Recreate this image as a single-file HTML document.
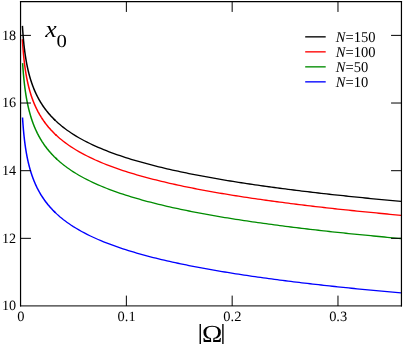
<!DOCTYPE html>
<html><head><meta charset="utf-8"><title>x0 vs |Omega|</title>
<style>
html,body{margin:0;padding:0;background:#fff;}
body{width:403px;height:344px;overflow:hidden;}
svg{display:block;will-change:transform;}
text{text-rendering:geometricPrecision;font-family:"Liberation Serif",serif;fill:#000;}
</style></head>
<body>
<svg width="403" height="344" viewBox="0 0 403 344">
<rect x="0" y="0" width="403" height="344" fill="#ffffff"/>
<g>
<path d="M22.53,117.50 L22.61,118.88 L22.70,120.25 L22.80,121.63 L22.89,123.01 L22.99,124.39 L23.10,125.76 L23.21,127.14 L23.32,128.52 L23.44,129.90 L23.57,131.28 L23.70,132.65 L23.83,134.03 L23.97,135.41 L24.12,136.79 L24.27,138.17 L24.43,139.55 L24.59,140.92 L24.77,142.30 L24.94,143.68 L25.13,145.06 L25.33,146.44 L25.53,147.82 L25.74,149.20 L25.96,150.58 L26.19,151.96 L26.43,153.34 L26.68,154.72 L26.94,156.10 L27.22,157.48 L27.50,158.86 L27.79,160.24 L28.10,161.62 L28.42,163.00 L28.75,164.38 L29.10,165.76 L29.46,167.14 L29.84,168.52 L30.23,169.90 L30.64,171.28 L31.07,172.66 L31.52,174.04 L31.98,175.42 L32.47,176.80 L32.97,178.18 L33.49,179.57 L34.04,180.95 L34.61,182.33 L35.21,183.71 L35.83,185.09 L36.47,186.47 L37.14,187.86 L37.85,189.24 L38.58,190.62 L39.34,192.00 L40.13,193.38 L40.96,194.77 L41.82,196.15 L42.72,197.53 L43.65,198.91 L44.63,200.30 L45.65,201.68 L46.71,203.06 L47.81,204.45 L48.96,205.83 L50.16,207.21 L51.41,208.60 L52.71,209.98 L54.07,211.36 L55.48,212.75" fill="none" stroke="#0000ff" stroke-width="1.5" stroke-linejoin="round"/>
<path d="M54.07,211.36 L55.48,212.75 L56.95,214.13 L58.49,215.51 L60.09,216.90 L61.76,218.28 L63.50,219.67 L65.31,221.05 L67.19,222.43 L69.16,223.82 L71.21,225.20 L73.35,226.59 L76.10,228.29 L78.85,229.91 L81.61,231.46 L84.36,232.94 L87.11,234.36 L89.87,235.72 L92.62,237.02 L95.37,238.28 L98.13,239.50 L100.88,240.67 L103.63,241.80 L106.39,242.89 L109.14,243.95 L111.89,244.98 L114.65,245.98 L117.40,246.94 L120.15,247.88 L122.91,248.80 L125.66,249.69 L128.41,250.56 L131.17,251.41 L133.92,252.23 L136.68,253.04 L139.43,253.83 L142.18,254.59 L144.94,255.35 L147.69,256.08 L150.44,256.80 L153.20,257.51 L155.95,258.20 L158.70,258.87 L161.46,259.54 L164.21,260.19 L166.96,260.82 L169.72,261.45 L172.47,262.07 L175.22,262.67 L177.98,263.26 L180.73,263.84 L183.48,264.42 L186.24,264.98 L188.99,265.53 L191.74,266.08 L194.50,266.62 L197.25,267.14 L200.00,267.66 L202.76,268.18 L205.51,268.68 L208.26,269.18 L211.02,269.67 L213.77,270.15 L216.52,270.62 L219.28,271.09 L222.03,271.56 L224.78,272.01 L227.54,272.46 L230.29,272.91 L233.04,273.35 L235.80,273.78 L238.55,274.21 L241.30,274.63 L244.06,275.05 L246.81,275.46 L249.56,275.86 L252.32,276.27 L255.07,276.66 L257.82,277.06 L260.58,277.44 L263.33,277.83 L266.08,278.21 L268.84,278.58 L271.59,278.95 L274.34,279.32 L277.10,279.68 L279.85,280.04 L282.60,280.40 L285.36,280.75 L288.11,281.10 L290.86,281.44 L293.62,281.78 L296.37,282.12 L299.12,282.45 L301.88,282.78 L304.63,283.11 L307.38,283.44 L310.14,283.76 L312.89,284.08 L315.65,284.39 L318.40,284.70 L321.15,285.01 L323.91,285.32 L326.66,285.63 L329.41,285.93 L332.17,286.23 L334.92,286.52 L337.67,286.81 L340.43,287.11 L343.18,287.39 L345.93,287.68 L348.69,287.96 L351.44,288.25 L354.19,288.52 L356.95,288.80 L359.70,289.08 L362.45,289.35 L365.21,289.62 L367.96,289.88 L370.71,290.15 L373.47,290.41 L376.22,290.68 L378.97,290.94 L381.73,291.19 L384.48,291.45 L387.23,291.70 L389.99,291.95 L392.74,292.20 L395.49,292.45 L398.25,292.70 L401.00,292.94" fill="none" stroke="#0000ff" stroke-width="1.3" stroke-linejoin="round"/>
<path d="M22.62,63.10 L22.70,64.48 L22.80,65.85 L22.89,67.23 L22.99,68.61 L23.09,69.98 L23.20,71.36 L23.31,72.74 L23.43,74.11 L23.55,75.49 L23.68,76.87 L23.81,78.25 L23.95,79.62 L24.09,81.00 L24.24,82.38 L24.40,83.75 L24.56,85.13 L24.73,86.51 L24.90,87.88 L25.09,89.26 L25.28,90.64 L25.48,92.01 L25.68,93.39 L25.90,94.77 L26.12,96.14 L26.36,97.52 L26.60,98.90 L26.86,100.27 L27.12,101.65 L27.39,103.03 L27.68,104.40 L27.98,105.78 L28.29,107.16 L28.61,108.53 L28.95,109.91 L29.30,111.29 L29.67,112.66 L30.05,114.04 L30.45,115.41 L30.86,116.79 L31.29,118.17 L31.74,119.54 L32.21,120.92 L32.70,122.30 L33.20,123.67 L33.73,125.05 L34.28,126.43 L34.85,127.80 L35.45,129.18 L36.07,130.56 L36.72,131.93 L37.39,133.31 L38.10,134.68 L38.83,136.06 L39.59,137.44 L40.38,138.81 L41.21,140.19 L42.07,141.57 L42.97,142.94 L43.90,144.32 L44.87,145.70 L45.89,147.07 L46.94,148.45 L48.04,149.82 L49.19,151.20 L50.38,152.58 L51.62,153.95 L52.91,155.33 L54.26,156.71 L55.67,158.08 L57.13,159.46" fill="none" stroke="#008c00" stroke-width="1.5" stroke-linejoin="round"/>
<path d="M55.67,158.08 L57.13,159.46 L58.65,160.83 L60.24,162.21 L61.89,163.59 L63.61,164.96 L65.40,166.34 L67.27,167.71 L69.21,169.09 L71.24,170.47 L73.35,171.84 L76.10,173.56 L78.85,175.19 L81.61,176.75 L84.36,178.24 L87.11,179.66 L89.87,181.03 L92.62,182.35 L95.37,183.61 L98.13,184.83 L100.88,186.01 L103.63,187.15 L106.39,188.25 L109.14,189.31 L111.89,190.35 L114.65,191.35 L117.40,192.32 L120.15,193.27 L122.91,194.19 L125.66,195.09 L128.41,195.96 L131.17,196.81 L133.92,197.64 L136.68,198.45 L139.43,199.24 L142.18,200.02 L144.94,200.77 L147.69,201.51 L150.44,202.23 L153.20,202.94 L155.95,203.64 L158.70,204.32 L161.46,204.98 L164.21,205.64 L166.96,206.28 L169.72,206.91 L172.47,207.52 L175.22,208.13 L177.98,208.73 L180.73,209.31 L183.48,209.89 L186.24,210.45 L188.99,211.01 L191.74,211.56 L194.50,212.10 L197.25,212.63 L200.00,213.15 L202.76,213.66 L205.51,214.17 L208.26,214.67 L211.02,215.16 L213.77,215.64 L216.52,216.12 L219.28,216.59 L222.03,217.06 L224.78,217.52 L227.54,217.97 L230.29,218.41 L233.04,218.85 L235.80,219.29 L238.55,219.72 L241.30,220.14 L244.06,220.56 L246.81,220.97 L249.56,221.38 L252.32,221.79 L255.07,222.19 L257.82,222.58 L260.58,222.97 L263.33,223.35 L266.08,223.73 L268.84,224.11 L271.59,224.48 L274.34,224.85 L277.10,225.22 L279.85,225.58 L282.60,225.93 L285.36,226.29 L288.11,226.64 L290.86,226.98 L293.62,227.32 L296.37,227.66 L299.12,228.00 L301.88,228.33 L304.63,228.66 L307.38,228.98 L310.14,229.31 L312.89,229.63 L315.65,229.94 L318.40,230.26 L321.15,230.57 L323.91,230.88 L326.66,231.18 L329.41,231.48 L332.17,231.78 L334.92,232.08 L337.67,232.37 L340.43,232.67 L343.18,232.96 L345.93,233.24 L348.69,233.53 L351.44,233.81 L354.19,234.09 L356.95,234.37 L359.70,234.64 L362.45,234.91 L365.21,235.19 L367.96,235.45 L370.71,235.72 L373.47,235.99 L376.22,236.25 L378.97,236.51 L381.73,236.77 L384.48,237.02 L387.23,237.28 L389.99,237.53 L392.74,237.78 L395.49,238.03 L398.25,238.28 L401.00,238.52" fill="none" stroke="#008c00" stroke-width="1.3" stroke-linejoin="round"/>
<path d="M22.37,39.30 L22.45,40.64 L22.53,41.99 L22.62,43.34 L22.71,44.68 L22.81,46.03 L22.91,47.38 L23.01,48.73 L23.12,50.08 L23.23,51.43 L23.35,52.78 L23.47,54.14 L23.60,55.49 L23.74,56.85 L23.88,58.20 L24.02,59.56 L24.17,60.92 L24.33,62.27 L24.50,63.63 L24.67,64.99 L24.85,66.36 L25.04,67.72 L25.24,69.08 L25.44,70.45 L25.65,71.81 L25.88,73.18 L26.11,74.54 L26.35,75.91 L26.60,77.28 L26.87,78.65 L27.14,80.02 L27.43,81.39 L27.73,82.76 L28.04,84.14 L28.37,85.51 L28.71,86.89 L29.06,88.26 L29.43,89.64 L29.82,91.02 L30.22,92.40 L30.64,93.77 L31.08,95.16 L31.54,96.54 L32.02,97.92 L32.51,99.30 L33.03,100.69 L33.58,102.07 L34.14,103.46 L34.73,104.84 L35.35,106.23 L35.99,107.62 L36.66,109.01 L37.36,110.40 L38.08,111.79 L38.85,113.18 L39.64,114.58 L40.47,115.97 L41.33,117.37 L42.23,118.76 L43.17,120.16 L44.15,121.56 L45.17,122.95 L46.24,124.35 L47.35,125.75 L48.51,127.16 L49.72,128.56 L50.98,129.96 L52.30,131.36 L53.68,132.77 L55.11,134.18 L56.61,135.58" fill="none" stroke="#ff0000" stroke-width="1.5" stroke-linejoin="round"/>
<path d="M55.11,134.18 L56.61,135.58 L58.17,136.99 L59.80,138.40 L61.50,139.81 L63.27,141.22 L65.12,142.63 L67.05,144.04 L69.06,145.45 L71.16,146.87 L73.35,148.28 L76.10,149.98 L78.85,151.60 L81.61,153.15 L84.36,154.62 L87.11,156.04 L89.87,157.40 L92.62,158.71 L95.37,159.97 L98.13,161.18 L100.88,162.35 L103.63,163.49 L106.39,164.58 L109.14,165.65 L111.89,166.68 L114.65,167.68 L117.40,168.65 L120.15,169.60 L122.91,170.52 L125.66,171.41 L128.41,172.29 L131.17,173.14 L133.92,173.97 L136.68,174.78 L139.43,175.58 L142.18,176.35 L144.94,177.11 L147.69,177.85 L150.44,178.58 L153.20,179.29 L155.95,179.98 L158.70,180.67 L161.46,181.34 L164.21,181.99 L166.96,182.64 L169.72,183.27 L172.47,183.89 L175.22,184.50 L177.98,185.10 L180.73,185.69 L183.48,186.27 L186.24,186.84 L188.99,187.40 L191.74,187.95 L194.50,188.49 L197.25,189.03 L200.00,189.55 L202.76,190.07 L205.51,190.58 L208.26,191.09 L211.02,191.58 L213.77,192.07 L216.52,192.56 L219.28,193.03 L222.03,193.50 L224.78,193.96 L227.54,194.42 L230.29,194.87 L233.04,195.32 L235.80,195.76 L238.55,196.19 L241.30,196.62 L244.06,197.04 L246.81,197.46 L249.56,197.87 L252.32,198.28 L255.07,198.69 L257.82,199.09 L260.58,199.48 L263.33,199.87 L266.08,200.26 L268.84,200.64 L271.59,201.01 L274.34,201.39 L277.10,201.76 L279.85,202.12 L282.60,202.48 L285.36,202.84 L288.11,203.20 L290.86,203.55 L293.62,203.89 L296.37,204.24 L299.12,204.58 L301.88,204.92 L304.63,205.25 L307.38,205.58 L310.14,205.91 L312.89,206.23 L315.65,206.55 L318.40,206.87 L321.15,207.19 L323.91,207.50 L326.66,207.81 L329.41,208.12 L332.17,208.42 L334.92,208.73 L337.67,209.03 L340.43,209.32 L343.18,209.62 L345.93,209.91 L348.69,210.20 L351.44,210.49 L354.19,210.77 L356.95,211.05 L359.70,211.33 L362.45,211.61 L365.21,211.89 L367.96,212.16 L370.71,212.43 L373.47,212.70 L376.22,212.97 L378.97,213.23 L381.73,213.50 L384.48,213.76 L387.23,214.02 L389.99,214.28 L392.74,214.53 L395.49,214.78 L398.25,215.04 L401.00,215.29" fill="none" stroke="#ff0000" stroke-width="1.3" stroke-linejoin="round"/>
<path d="M22.43,25.90 L22.51,27.24 L22.59,28.59 L22.68,29.93 L22.78,31.28 L22.88,32.62 L22.98,33.97 L23.08,35.32 L23.19,36.66 L23.31,38.01 L23.43,39.36 L23.56,40.71 L23.69,42.06 L23.82,43.42 L23.96,44.77 L24.11,46.12 L24.27,47.48 L24.43,48.83 L24.60,50.19 L24.77,51.54 L24.96,52.90 L25.15,54.26 L25.34,55.62 L25.55,56.98 L25.77,58.34 L25.99,59.70 L26.23,61.06 L26.47,62.43 L26.73,63.79 L27.00,65.16 L27.28,66.52 L27.57,67.89 L27.87,69.25 L28.18,70.62 L28.51,71.99 L28.86,73.36 L29.21,74.73 L29.59,76.10 L29.98,77.47 L30.38,78.85 L30.80,80.22 L31.24,81.59 L31.70,82.97 L32.18,84.34 L32.68,85.72 L33.21,87.10 L33.75,88.47 L34.32,89.85 L34.91,91.23 L35.53,92.61 L36.17,93.99 L36.84,95.38 L37.54,96.76 L38.27,98.14 L39.03,99.53 L39.82,100.91 L40.65,102.30 L41.51,103.68 L42.41,105.07 L43.35,106.46 L44.33,107.85 L45.35,109.24 L46.41,110.63 L47.52,112.02 L48.68,113.41 L49.89,114.81 L51.14,116.20 L52.46,117.59 L53.82,118.99 L55.25,120.38" fill="none" stroke="#000000" stroke-width="1.5" stroke-linejoin="round"/>
<path d="M53.82,118.99 L55.25,120.38 L56.74,121.78 L58.29,123.18 L59.91,124.58 L61.59,125.98 L63.35,127.38 L65.19,128.78 L67.10,130.18 L69.10,131.58 L71.18,132.98 L73.35,134.39 L76.10,136.09 L78.85,137.71 L81.61,139.26 L84.36,140.74 L87.11,142.15 L89.87,143.52 L92.62,144.82 L95.37,146.09 L98.13,147.30 L100.88,148.47 L103.63,149.61 L106.39,150.71 L109.14,151.77 L111.89,152.80 L114.65,153.81 L117.40,154.78 L120.15,155.73 L122.91,156.65 L125.66,157.54 L128.41,158.42 L131.17,159.27 L133.92,160.10 L136.68,160.91 L139.43,161.71 L142.18,162.48 L144.94,163.24 L147.69,163.98 L150.44,164.71 L153.20,165.42 L155.95,166.11 L158.70,166.80 L161.46,167.47 L164.21,168.12 L166.96,168.77 L169.72,169.40 L172.47,170.02 L175.22,170.63 L177.98,171.23 L180.73,171.82 L183.48,172.40 L186.24,172.97 L188.99,173.53 L191.74,174.08 L194.50,174.62 L197.25,175.16 L200.00,175.68 L202.76,176.20 L205.51,176.71 L208.26,177.21 L211.02,177.71 L213.77,178.20 L216.52,178.68 L219.28,179.16 L222.03,179.63 L224.78,180.09 L227.54,180.54 L230.29,181.00 L233.04,181.44 L235.80,181.88 L238.55,182.31 L241.30,182.74 L244.06,183.16 L246.81,183.58 L249.56,184.00 L252.32,184.40 L255.07,184.81 L257.82,185.21 L260.58,185.60 L263.33,185.99 L266.08,186.37 L268.84,186.76 L271.59,187.13 L274.34,187.51 L277.10,187.87 L279.85,188.24 L282.60,188.60 L285.36,188.96 L288.11,189.31 L290.86,189.66 L293.62,190.01 L296.37,190.35 L299.12,190.69 L301.88,191.03 L304.63,191.36 L307.38,191.69 L310.14,192.02 L312.89,192.35 L315.65,192.67 L318.40,192.98 L321.15,193.30 L323.91,193.61 L326.66,193.92 L329.41,194.23 L332.17,194.53 L334.92,194.83 L337.67,195.13 L340.43,195.43 L343.18,195.72 L345.93,196.02 L348.69,196.30 L351.44,196.59 L354.19,196.88 L356.95,197.16 L359.70,197.44 L362.45,197.72 L365.21,197.99 L367.96,198.26 L370.71,198.53 L373.47,198.80 L376.22,199.07 L378.97,199.34 L381.73,199.60 L384.48,199.86 L387.23,200.12 L389.99,200.38 L392.74,200.63 L395.49,200.88 L398.25,201.14 L401.00,201.38" fill="none" stroke="#000000" stroke-width="1.3" stroke-linejoin="round"/>
</g>
<g stroke="#000" stroke-linecap="square">
<line x1="20.55" y1="1.55" x2="401.45" y2="1.55" stroke-width="1.2"/>
<line x1="20.55" y1="305.92" x2="401.45" y2="305.92" stroke-width="1.0"/>
<line x1="20.55" y1="1.55" x2="20.55" y2="306.0" stroke-width="1.2"/>
<line x1="401.45" y1="1.55" x2="401.45" y2="306.0" stroke-width="1.2"/>
</g>
<g stroke="#000" stroke-width="1.0">
<line x1="20.55" y1="238.34" x2="30.95" y2="238.34"/>
<line x1="401.45" y1="238.34" x2="391.05" y2="238.34"/>
<line x1="20.55" y1="170.69" x2="30.95" y2="170.69"/>
<line x1="401.45" y1="170.69" x2="391.05" y2="170.69"/>
<line x1="20.55" y1="103.03" x2="30.95" y2="103.03"/>
<line x1="401.45" y1="103.03" x2="391.05" y2="103.03"/>
<line x1="20.55" y1="35.38" x2="30.95" y2="35.38"/>
<line x1="401.45" y1="35.38" x2="391.05" y2="35.38"/>
<line x1="126.36" y1="306.0" x2="126.36" y2="295.60"/>
<line x1="126.36" y1="1.55" x2="126.36" y2="11.95"/>
<line x1="232.16" y1="306.0" x2="232.16" y2="295.60"/>
<line x1="232.16" y1="1.55" x2="232.16" y2="11.95"/>
<line x1="337.97" y1="306.0" x2="337.97" y2="295.60"/>
<line x1="337.97" y1="1.55" x2="337.97" y2="11.95"/>
</g>
<g>
<text transform="translate(16.15,310.45) scale(1.0,1)" text-anchor="end" font-size="14.2">10</text>
<text transform="translate(16.15,242.79) scale(1.0,1)" text-anchor="end" font-size="14.2">12</text>
<text transform="translate(16.15,175.14) scale(1.0,1)" text-anchor="end" font-size="14.2">14</text>
<text transform="translate(16.15,107.48) scale(1.0,1)" text-anchor="end" font-size="14.2">16</text>
<text transform="translate(16.15,39.83) scale(1.0,1)" text-anchor="end" font-size="14.2">18</text>
<text transform="translate(20.75,320.50) scale(1.02,1)" text-anchor="middle" font-size="14.2">0</text>
<text transform="translate(126.56,320.50) scale(1.02,1)" text-anchor="middle" font-size="14.2">0.1</text>
<text transform="translate(232.36,320.50) scale(1.02,1)" text-anchor="middle" font-size="14.2">0.2</text>
<text transform="translate(338.17,320.50) scale(1.02,1)" text-anchor="middle" font-size="14.2">0.3</text>
</g>
<g>
<line x1="305.2" y1="36.85" x2="325.7" y2="36.85" stroke="#000000" stroke-width="1.35"/>
<text transform="translate(335.80,41.65) scale(0.97,1)" text-anchor="start" font-size="15.0"><tspan font-style="italic">N</tspan>=150</text>
<line x1="305.2" y1="51.85" x2="325.7" y2="51.85" stroke="#ff0000" stroke-width="1.35"/>
<text transform="translate(335.80,56.65) scale(0.97,1)" text-anchor="start" font-size="15.0"><tspan font-style="italic">N</tspan>=100</text>
<line x1="305.2" y1="66.85" x2="325.7" y2="66.85" stroke="#008c00" stroke-width="1.35"/>
<text transform="translate(335.80,71.65) scale(0.97,1)" text-anchor="start" font-size="15.0"><tspan font-style="italic">N</tspan>=50</text>
<line x1="305.2" y1="81.85" x2="325.7" y2="81.85" stroke="#0000ff" stroke-width="1.35"/>
<text transform="translate(335.80,86.65) scale(0.97,1)" text-anchor="start" font-size="15.0"><tspan font-style="italic">N</tspan>=10</text>
</g>
<text transform="translate(45.20,36.90) scale(1.07,1)" text-anchor="start" font-size="24" font-style="italic">x</text>
<text transform="translate(56.50,47.20) scale(1.12,1)" text-anchor="start" font-size="18.5">0</text>
<text transform="translate(212.10,342.00) scale(1.11,1)" text-anchor="middle" font-size="24.6">&#937;</text>
<g stroke="#000" stroke-width="1.4">
<line x1="200.25" y1="324.1" x2="200.25" y2="346"/>
<line x1="222.9" y1="324.1" x2="222.9" y2="346"/>
</g>
</svg>
</body></html>
